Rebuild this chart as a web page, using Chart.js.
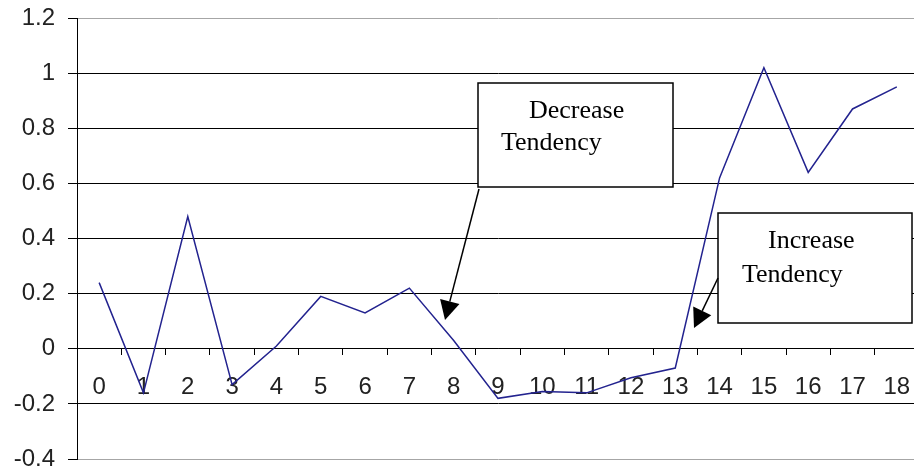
<!DOCTYPE html>
<html>
<head>
<meta charset="utf-8">
<script src="https://cdn.jsdelivr.net/npm/chart.js@4"></script>
<style>
  html, body { margin: 0; padding: 0; background: #fff; overflow: hidden; }
  #wrap { width: 920px; height: 470px; }
</style>
</head>
<body>
<div id="wrap"><canvas id="lineChart" width="920" height="470"></canvas></div>
<script>
const categories = ["0","1","2","3","4","5","6","7","8","9","10","11","12","13","14","15","16","17","18"];
const values = [0.24, -0.16, 0.48, -0.13, 0.01, 0.19, 0.13, 0.22, 0.03, -0.18, -0.155, -0.16, -0.105, -0.07, 0.62, 1.02, 0.64, 0.87, 0.95];
const yMin = -0.4;
const yMax = 1.2;
const yStep = 0.2;

const callouts = [
  { text: ["Decrease", "Tendency"], box: [478, 83, 673, 187], lines: [[529, 118], [501, 150]],
    from: [479, 189], tip: [445, 320] },
  { text: ["Increase", "Tendency"], box: [718, 213, 912, 323], lines: [[768, 248], [742, 282]],
    from: [718, 278], tip: [694, 328] }
];

function isEdge(v) {
  return Math.abs(v - yMax) < 1e-6 || Math.abs(v - yMin) < 1e-6;
}

// keep the scales from reserving room for half labels
function noPadding(scale) {
  scale.paddingTop = 0;
  scale.paddingBottom = 0;
  scale.paddingLeft = 0;
  scale.paddingRight = 0;
}

const calloutPlugin = {
  id: "callouts",
  afterDraw(chart) {
    const ctx = chart.ctx;
    ctx.save();
    callouts.forEach(c => {
      const [x1, y1, x2, y2] = c.box;
      ctx.fillStyle = "#fff";
      ctx.fillRect(x1, y1, x2 - x1, y2 - y1);
      ctx.strokeStyle = "#000";
      ctx.lineWidth = 1.5;
      ctx.strokeRect(x1, y1, x2 - x1, y2 - y1);

      ctx.fillStyle = "#000";
      ctx.font = "26px 'Liberation Serif', 'Times New Roman', serif";
      ctx.textBaseline = "alphabetic";
      ctx.textAlign = "left";
      c.text.forEach((t, i) => ctx.fillText(t, c.lines[i][0], c.lines[i][1]));

      // arrow
      const [fx, fy] = c.from;
      const [tx, ty] = c.tip;
      const dx = tx - fx, dy = ty - fy;
      const len = Math.hypot(dx, dy);
      const ux = dx / len, uy = dy / len;
      const headLen = 19, headW = 10;
      const bx = tx - ux * headLen, by = ty - uy * headLen;
      ctx.beginPath();
      ctx.moveTo(fx, fy);
      ctx.lineTo(bx, by);
      ctx.lineWidth = 1.5;
      ctx.stroke();
      ctx.beginPath();
      ctx.moveTo(tx, ty);
      ctx.lineTo(bx - uy * headW, by + ux * headW);
      ctx.lineTo(bx + uy * headW, by - ux * headW);
      ctx.closePath();
      ctx.fill();
    });
    ctx.restore();
  }
};

new Chart(document.getElementById("lineChart"), {
  type: "line",
  data: {
    labels: categories,
    datasets: [{
      data: values,
      borderColor: "#23238f",
      borderWidth: 1.5,
      pointRadius: 0,
      tension: 0,
      fill: false
    }]
  },
  options: {
    responsive: false,
    animation: false,
    layout: { padding: { left: 0, right: 1, top: 18, bottom: 11 } },
    plugins: {
      legend: { display: false },
      tooltip: { enabled: false }
    },
    scales: {
      x: {
        type: "category",
        offset: true,
        position: { y: 0 },
        afterFit(scale) { scale.height = 0; noPadding(scale); },
        grid: {
          offset: true,
          drawOnChartArea: false,
          drawTicks: true,
          tickLength: 6,
          tickColor: "#000",
          lineWidth: 1
        },
        border: { display: true, color: "#000", width: 1 },
        ticks: {
          autoSkip: false,
          maxRotation: 0,
          padding: 18,
          color: "#222",
          font: { family: "'Liberation Sans', Arial, sans-serif", size: 24 }
        }
      },
      y: {
        min: yMin,
        max: yMax,
        afterFit(scale) { scale.width = 77; noPadding(scale); },
        grid: {
          color: ctx => isEdge(ctx.tick.value) ? "#a6a6a6" : "#000",
          lineWidth: 1,
          drawTicks: true,
          tickLength: 9,
          tickColor: "#000"
        },
        border: { display: true, color: "#000", width: 1 },
        ticks: {
          stepSize: yStep,
          padding: 13,
          color: "#222",
          font: { family: "'Liberation Sans', Arial, sans-serif", size: 24 },
          callback: v => String(parseFloat(v.toFixed(1)))
        }
      }
    }
  },
  plugins: [calloutPlugin]
});
</script>
</body>
</html>
